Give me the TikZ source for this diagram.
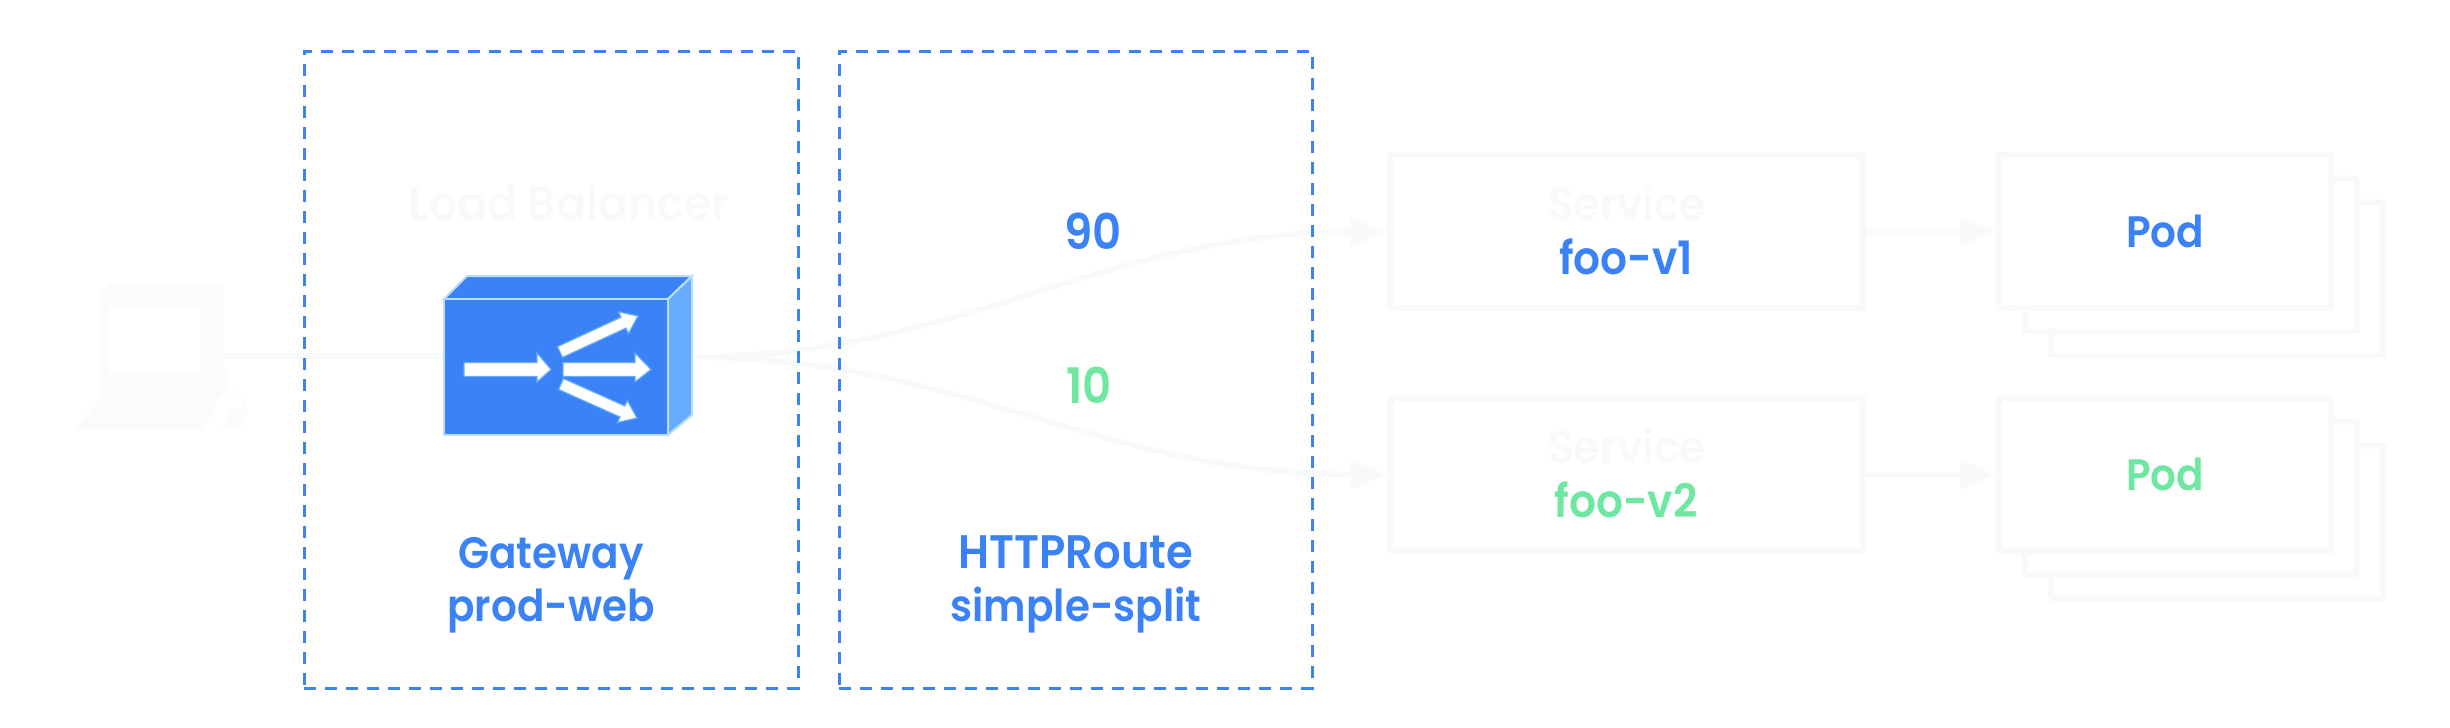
\documentclass[tikz,border=0pt]{standalone}
\usepackage{fontspec}
\setmainfont[FakeStretch=0.92]{Poppins SemiBold}
\usetikzlibrary{arrows.meta}
\definecolor{gblue}{HTML}{3B82F6}
\definecolor{ggreen}{HTML}{6EE7A0}
\definecolor{faint}{HTML}{F8F9FB}
\definecolor{fainter}{HTML}{FAFBFC}
\definecolor{lbside}{HTML}{66ADFF}
\definecolor{lbedge}{HTML}{BBDDFF}
\tikzset{
  zonebox/.style={draw=gblue,line width=3pt,dash pattern=on 12pt off 9pt,inner sep=0pt,outer sep=0pt},
  fbox/.style={draw=faint,line width=6pt,fill=white,rounded corners=1pt,minimum width=473pt,minimum height=153pt,inner sep=0pt,outer sep=3pt},
  podbox/.style={fbox,minimum width=332pt,minimum height=153pt},
  conn/.style={draw=faint,line width=6pt},
  arr/.style={conn,-{Triangle[length=36pt,width=28pt,fill=faint]}},
  lbl/.style={font=\fontsize{44}{44}\selectfont,anchor=base,inner sep=0pt},
  ghost/.style={lbl,text=faint},
  bl/.style={lbl,text=gblue},
  gr/.style={lbl,text=ggreen},
  bigger/.style={font=\fontsize{46}{46}\selectfont},
  digits/.style={font=\fontsize{49}{49}\selectfont}
}
\begin{document}
\begin{tikzpicture}[x=1pt,y=-1pt]
\useasboundingbox (0,0) rectangle (2450,728);
% connector anchors
\coordinate (pc) at (223,356);
\coordinate (lbin) at (444,356);
\coordinate (lbout) at (692,357);
% faint boxes
\node[fbox,minimum width=473pt] (s1) at (1626.5,231.5) {};
\node[fbox,minimum width=473pt] (s2) at (1626.5,474.5) {};
\node[podbox] (p1c) at (2217,279) {};
\node[podbox] (p1b) at (2190.5,255) {};
\node[podbox] (p1a) at (2165,231.5) {};
\node[podbox] (p2c) at (2217,522) {};
\node[podbox] (p2b) at (2190.5,498) {};
\node[podbox] (p2a) at (2165,474.5) {};
% connectors
\draw[conn] (pc) -- (lbin);
\draw[arr] (lbout) .. controls (960,357) and (1100,233) .. (s1.west);
\draw[arr] (lbout) .. controls (960,357) and (1100,474) .. (s2.west);
\draw[arr] (s1.east) -- (p1a.west);
\draw[arr] (s2.east) -- (p2a.west);
% client icon
\begin{scope}[fill=fainter,draw=none]
\fill[even odd rule] (99,293) -- (211,293) -- (211,384) -- (99,384) -- cycle (108,306) -- (201,306) -- (201,373) -- (108,373) -- cycle;
\fill (99,293) -- (110,283) -- (223,283) -- (211,293) -- cycle;
\fill (211,293) -- (223,283) -- (223,372) -- (211,384) -- cycle;
\fill (99,384) -- (227,372) -- (227,392) -- (215,403) -- (99,403) -- cycle;
\fill (97,403) -- (215,403) -- (215,410) -- (200,430) -- (78,430) -- (78,425) -- cycle;
\fill (231,409) -- (248,409) -- (248,414) -- (240,428) -- (222,428) -- cycle;
\end{scope}
\draw[fainter,line width=1.5pt] (225,387) .. controls (238,389) and (245,398) .. (245,409);
% load balancer icon
\draw[lbedge,line width=2pt,fill=gblue] (444,299) -- (467,276) -- (692,276) -- (668,299) -- cycle;
\draw[lbedge,line width=2pt,fill=lbside] (668,299) -- (692,276) -- (692,415) -- (668,435) -- cycle;
\draw[lbedge,line width=2pt,fill=gblue] (444,299) rectangle (668,435);
\begin{scope}[fill=white,draw=lbside,line width=1.2pt]
\filldraw (464,362.5) -- (537,362.5) -- (537,353) -- (551,369.5) -- (537,382) -- (537,376.5) -- (464,376.5) -- cycle;
\filldraw (563,362.5) -- (635,362.5) -- (635,353) -- (651,369.5) -- (635,382) -- (635,376.5) -- (563,376.5) -- cycle;
\filldraw (557.5,346.6) -- (621,317.2) -- (618.5,311.8) -- (638,316) -- (628.5,333.6) -- (626,328.1) -- (562.5,357.4) -- cycle;
\filldraw (563.4,378.5) -- (624.8,406) -- (627.3,400.5) -- (637,418) -- (617.5,422.5) -- (620,417) -- (558.6,389.5) -- cycle;
\end{scope}
% zones
\node[zonebox,minimum width=494pt,minimum height=637pt] (zgw) at (551,369.5) {};
\node[zonebox,minimum width=473pt,minimum height=637pt] (zrt) at (1075.5,369.5) {};
% labels
\node[ghost,font=\fontsize{48}{48}\selectfont] (tlb) at (569,220) {Load Balancer};
\node[ghost,bigger] (ts1) at (1627,220) {Service};
\node[ghost,bigger] (ts2) at (1627,463) {Service};
\node[bl,bigger] (tf1) at (1626,274) {foo-v1};
\node[gr,bigger] (tf2) at (1626,517) {foo-v2};
\node[bl] (tp1) at (2165,247) {Pod};
\node[gr] (tp2) at (2165,490) {Pod};
\node[bl,digits] (t90) at (1093,249) {90};
\node[gr,digits] (t10) at (1089,403) {10};
\node[bl] (tg1) at (551,568) {Gateway};
\node[bl] (tg2) at (551,621) {prod-web};
\node[bl,font=\fontsize{47}{47}\selectfont] (th1) at (1076,568) {HTTPRoute};
\node[bl] (th2) at (1076,621) {simple-split};
\end{tikzpicture}
\end{document}
